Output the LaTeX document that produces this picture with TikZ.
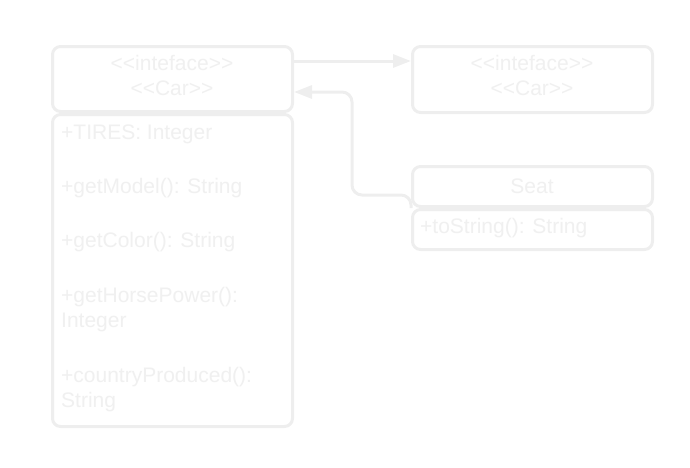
\documentclass[tikz,border=0pt]{standalone}
\usepackage{fontspec}
\setmainfont{Liberation Sans}
\usetikzlibrary{arrows.meta}
\definecolor{strokegray}{HTML}{EEEEEE}
\definecolor{textgray}{HTML}{F0F0F0}
\tikzset{
  umlbox/.style={draw=strokegray, line width=3pt, rounded corners=8pt, anchor=north west, inner sep=0pt, fill=white},
  txt/.style={text=textgray, font=\fontsize{21}{25}\selectfont, inner sep=0pt},
  conn/.style={draw=strokegray, line width=3pt, -{Triangle[length=18pt,width=13pt]}}
}
\begin{document}
\begin{tikzpicture}[x=1pt,y=-1pt]
\useasboundingbox (0,0) rectangle (690,467);
% Car interface
\node[umlbox, minimum width=240pt, minimum height=65pt] (carh) at (51,45) {};
\node[umlbox, minimum width=240pt, minimum height=312pt] (carb) at (51,113) {};
\node[txt, anchor=base] (carh1) at (172,70) {<{}<inteface>{}>};
\node[txt, anchor=base] (carh2) at (172,95) {<{}<Car>{}>};
\node[txt, anchor=base west] (a1) at (61,139) {+TIRES: Integer};
\node[txt, anchor=base west] (a2) at (61,193) {+getModel(): String};
\node[txt, anchor=base west] (a3) at (61,247) {+getColor(): String};
\node[txt, anchor=base west] (a4) at (61,302) {+getHorsePower():};
\node[txt, anchor=base west] (a4b) at (61,327) {Integer};
\node[txt, anchor=base west] (a5) at (61,382) {+countryProduced():};
\node[txt, anchor=base west] (a5b) at (61,407) {String};
% Right interface
\node[umlbox, minimum width=240pt, minimum height=66pt] (rih) at (411,45) {};
\node[txt, anchor=base] (rih1) at (532,70) {<{}<inteface>{}>};
\node[txt, anchor=base] (rih2) at (532,95) {<{}<Car>{}>};
% Seat
\node[umlbox, minimum width=240pt, minimum height=40pt] (seath) at (411,165) {};
\node[umlbox, minimum width=240pt, minimum height=40pt] (seatb) at (411,208) {};
\node[txt, anchor=base] (seatt) at (532,193) {Seat};
\node[txt, anchor=base west] (s1) at (420,233) {+toString(): String};
% connectors
\coordinate (c1s) at (carh.east |- 0,61);
\coordinate (c1e) at (rih.west |- 0,61);
\draw[conn] (c1s) -- (c1e);
\coordinate (c2s) at (seath.south west);
\coordinate (c2e) at (carh.east |- 0,92);
\draw[conn, rounded corners=10pt] (c2s) -- (411,195) -- (352,195) -- (352,92) -- (c2e);
\end{tikzpicture}
\end{document}
